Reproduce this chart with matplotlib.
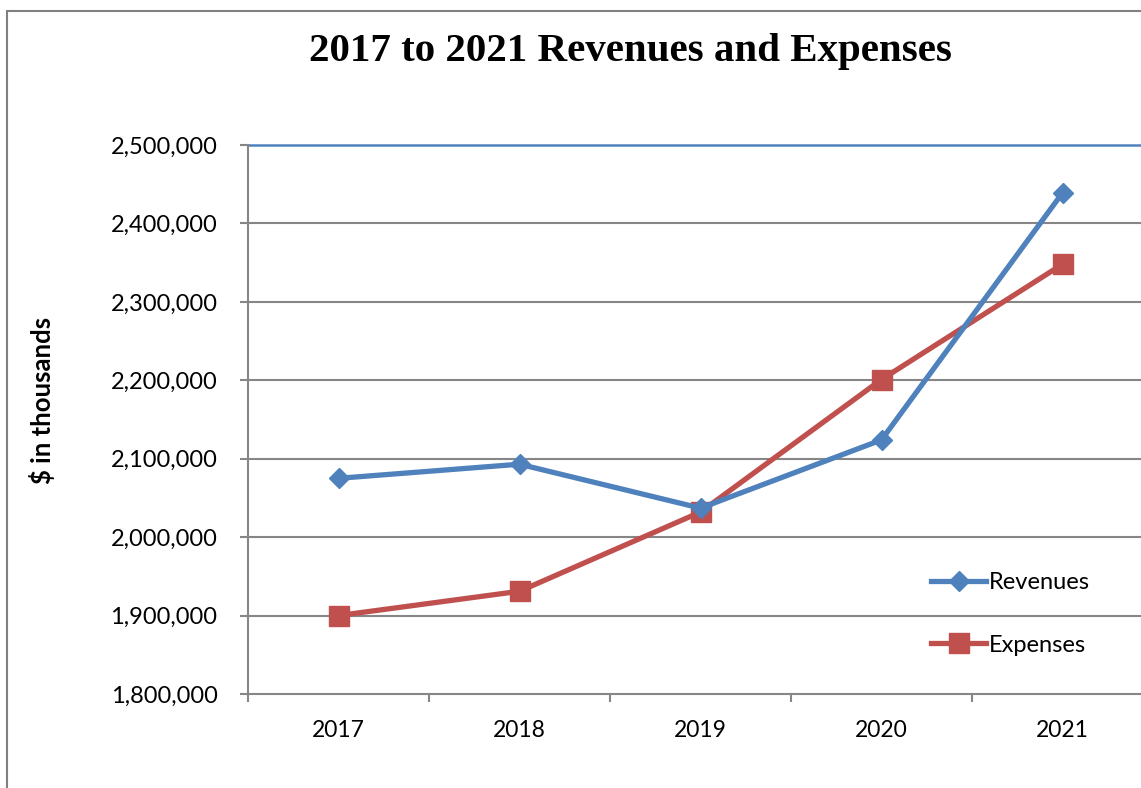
"""Line chart of revenues and expenses, 2017 to 2021"""

import matplotlib
matplotlib.use('Agg')
import matplotlib.pyplot as plt
from matplotlib.patches import Rectangle
from matplotlib.ticker import FuncFormatter, FixedLocator

#data ($ in thousands)
years = ['2017', '2018', '2019', '2020', '2021']
revenues = [2075000, 2093000, 2037000, 2124000, 2439000]
expenses = [1900000, 1931000, 2032000, 2201000, 2348000]

#colours
blue = '#4F81BD'
red = '#C0504D'
grey = '#868686'

label_font = 'Lato'

fig = plt.figure(figsize=(11.41, 7.88), dpi=100)
#plot area runs past the right edge, as in the reference
ax = fig.add_axes([248/1141, 1-694/788, 905/1141, 549/788])

x = list(range(len(years)))
ax.plot(x, revenues, color=blue, lw=3.8, marker='D', ms=10.5, mec=blue, label='Revenues', zorder=4)
ax.plot(x, expenses, color=red, lw=3.8, marker='s', ms=14, mec=red, label='Expenses', zorder=3)

ax.set_xlim(-0.5, 4.5)
ax.set_ylim(1800000, 2500000)

#gridlines: grey except the top one, which is blue
for val in range(1900000, 2500000, 100000):
    ax.axhline(val, color=grey, lw=1.5, zorder=1)
ax.axhline(2500000, color=blue, lw=1.8, zorder=1, clip_on=False)

for side in ['top', 'right']:
    ax.spines[side].set_visible(False)
for side in ['left', 'bottom']:
    ax.spines[side].set_color(grey)
    ax.spines[side].set_linewidth(1.5)

ax.set_yticks(range(1800000, 2500001, 100000))
ax.yaxis.set_major_formatter(FuncFormatter(lambda v, p: '{:,.0f}'.format(v)))
ax.tick_params(axis='y', direction='out', length=6, width=1.5, color=grey, pad=16, labelsize=17)

ax.set_xticks(x)
ax.set_xticklabels(years)
ax.xaxis.set_minor_locator(FixedLocator([i - 0.5 for i in range(len(years) + 1)]))
ax.tick_params(axis='x', which='major', length=0, pad=19, labelsize=16.5)
ax.tick_params(axis='x', which='minor', direction='out', length=6, width=1.5, color=grey)

for lbl in ax.get_xticklabels() + ax.get_yticklabels():
    lbl.set_family(label_font)

#title and axis label
fig.text(630/1141, 1-51/788, '2017 to 2021 Revenues and Expenses', ha='center', va='center',
         fontsize=29.5, fontweight='bold', family='Liberation Serif')
fig.text(42/1141, 1-400/788, '$ in thousands', ha='center', va='center', rotation=90,
         fontsize=18.5, fontweight='bold', family=label_font)

#legend
fig.legend(loc='center left', bbox_to_anchor=(922/1141, 1-614/788), frameon=False,
           prop={'family': label_font, 'size': 17}, handlelength=2.3, handletextpad=0.15,
           labelspacing=1.75, borderaxespad=0)

#chart border
fig.patches.append(Rectangle((7/1141, -0.1), 1.2, 1 - 11/788 + 0.1, transform=fig.transFigure,
                             fill=False, ec='#808080', lw=1.5))

fig.savefig('out.png', dpi=100)
